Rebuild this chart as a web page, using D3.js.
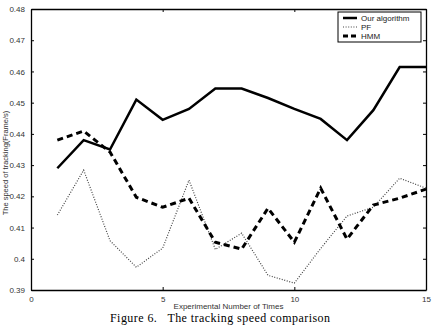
<!DOCTYPE html>
<html>
<head>
<meta charset="utf-8">
<script src="https://cdn.jsdelivr.net/npm/d3@7"></script>
<style>
  body { margin: 0; background: #fff; }
  svg { display: block; }
  .tick text { font-family: "Liberation Sans", Arial, sans-serif; font-size: 8px; fill: #333; }
</style>
</head>
<body>
<div id="chart"></div>
<script>
// x positions: experiment number
const runs = [1, 2, 3, 4, 5, 6, 7, 8, 9, 10, 11, 12, 13, 14, 15];

// tracking speed (frame/s) per method
const ourAlgorithm = [0.429, 0.438, 0.435, 0.451, 0.4445, 0.448, 0.4545, 0.4545, 0.4515, 0.448, 0.4448, 0.438, 0.4476, 0.4614, 0.4614];
const pf = [0.414, 0.4284, 0.4058, 0.3973, 0.4034, 0.4252, 0.403, 0.4082, 0.3947, 0.3922, 0.4033, 0.4137, 0.4165, 0.4258, 0.4226];
const hmm = [0.438, 0.4409, 0.4342, 0.4197, 0.4165, 0.4194, 0.4053, 0.4031, 0.4162, 0.4053, 0.4226, 0.4063, 0.4172, 0.4194, 0.4223];

const xTicks = [0, 5, 10, 15];
const yTicks = [0.39, 0.4, 0.41, 0.42, 0.43, 0.44, 0.45, 0.46, 0.47, 0.48];

const W = 439, H = 326;
const margin = {top: 9, right: 13, bottom: 36, left: 31};
const width = W - margin.left - margin.right;
const height = H - margin.top - margin.bottom;

const svg = d3.select('#chart').append('svg')
    .attr('width', W)
    .attr('height', H);

const g = svg.append('g')
    .attr('transform', `translate(${margin.left},${margin.top})`);

const x = d3.scaleLinear().domain([0, 15]).range([0, width]);
const y = d3.scaleLinear().domain([0.39, 0.48]).range([height, 0]);

const fmtY = d => (d === 0.4 ? '0.4' : d3.format('.2f')(d));

// axes with inward ticks, mirrored on top/right
g.append('g')
    .attr('transform', `translate(0,${height})`)
    .call(d3.axisBottom(x).tickValues(xTicks).tickSizeInner(-3).tickSizeOuter(0).tickPadding(6));
g.append('g')
    .call(d3.axisTop(x).tickValues(xTicks).tickSizeInner(-3).tickSizeOuter(0).tickFormat(''));
g.append('g')
    .call(d3.axisLeft(y).tickValues(yTicks).tickSizeInner(-3).tickSizeOuter(0).tickPadding(6).tickFormat(fmtY));
g.append('g')
    .attr('transform', `translate(${width},0)`)
    .call(d3.axisRight(y).tickValues(yTicks).tickSizeInner(-3).tickSizeOuter(0).tickFormat(''));

g.selectAll('.domain').attr('stroke', '#000').attr('stroke-width', 1.3);
g.selectAll('.tick line').attr('stroke', '#000');

// series lines
const line = d3.line()
    .x((d, i) => x(runs[i]))
    .y(d => y(d));

g.append('path')
    .datum(pf)
    .attr('fill', 'none')
    .attr('stroke', '#444')
    .attr('stroke-width', 1.2)
    .attr('stroke-dasharray', '1,1.6')
    .attr('d', line);

g.append('path')
    .datum(hmm)
    .attr('fill', 'none')
    .attr('stroke', '#000')
    .attr('stroke-width', 3)
    .attr('stroke-dasharray', '6,4')
    .attr('d', line);

g.append('path')
    .datum(ourAlgorithm)
    .attr('fill', 'none')
    .attr('stroke', '#000')
    .attr('stroke-width', 2.5)
    .attr('stroke-linejoin', 'miter')
    .attr('d', line);

// legend
const legend = g.append('g').attr('transform', `translate(${width - 88},3)`);
legend.append('rect')
    .attr('width', 83).attr('height', 30)
    .attr('fill', '#fff').attr('stroke', '#000').attr('stroke-width', 1);

const legendItems = [
    {label: 'Our algorithm', dash: null, w: 2.5, color: '#000'},
    {label: 'PF', dash: '1,1.6', w: 1.2, color: '#444'},
    {label: 'HMM', dash: '5,3', w: 3, color: '#000'}
];
legendItems.forEach((d, i) => {
    const yy = 6 + i * 9;
    legend.append('line')
        .attr('x1', 5).attr('x2', 19)
        .attr('y1', yy).attr('y2', yy)
        .attr('stroke', d.color)
        .attr('stroke-width', d.w)
        .attr('stroke-dasharray', d.dash);
    legend.append('text')
        .attr('x', 23).attr('y', yy + 3)
        .attr('font-family', '"Liberation Sans", Arial, sans-serif')
        .attr('font-size', '8px')
        .attr('fill', '#222')
        .text(d.label);
});

// axis labels
svg.append('text')
    .attr('x', margin.left + width / 2)
    .attr('y', 309)
    .attr('text-anchor', 'middle')
    .attr('font-family', '"Liberation Sans", Arial, sans-serif')
    .attr('font-size', '8px')
    .attr('fill', '#333')
    .text('Experimental Number of Times');

svg.append('text')
    .attr('transform', 'rotate(-90)')
    .attr('x', -163)
    .attr('y', 8)
    .attr('text-anchor', 'middle')
    .attr('font-family', '"Liberation Sans", Arial, sans-serif')
    .attr('font-size', '7.5px')
    .attr('fill', '#333')
    .text('The speed of tracking(Frame/s)');

// figure caption
svg.append('text')
    .attr('x', 110)
    .attr('y', 322)
    .attr('font-family', '"Liberation Serif", "Times New Roman", serif')
    .attr('font-size', '12px')
    .attr('fill', '#000')
    .attr('xml:space', 'preserve')
    .attr('textLength', 220)
    .attr('lengthAdjust', 'spacing')
    .text('Figure 6.   The tracking speed comparison');
</script>
</body>
</html>
